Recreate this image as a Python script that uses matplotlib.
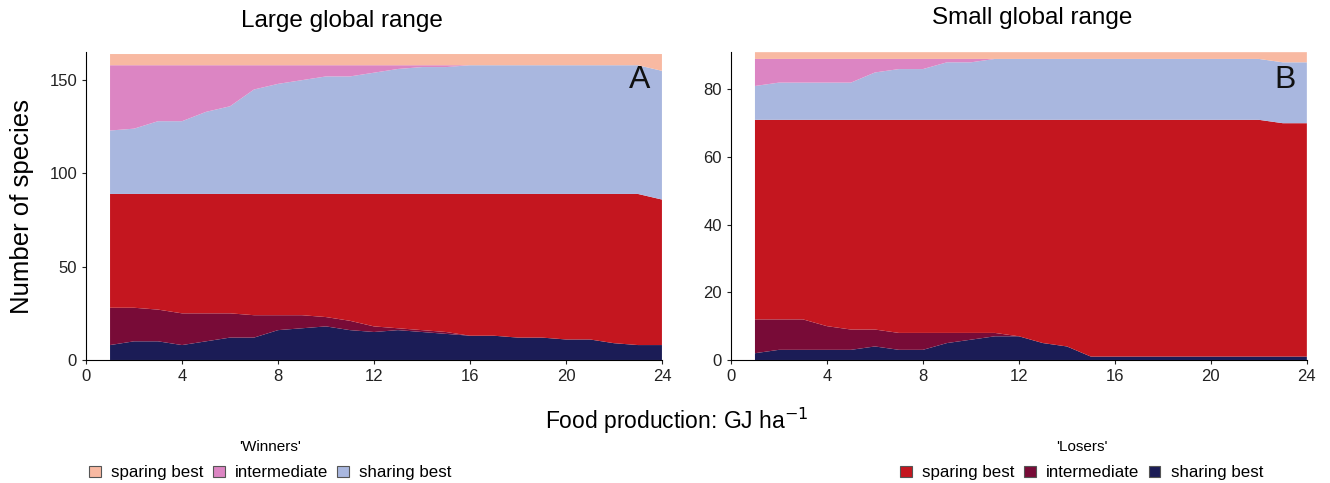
import numpy as np
import matplotlib
matplotlib.use("Agg")
import matplotlib.pyplot as plt
from matplotlib.patches import Patch

plt.rcParams['font.family'] = ['Liberation Sans', 'DejaVu Sans']

food = list(range(1, 25))  # GJ/ha

# panel A - large global range (counts per group, stacked bottom -> top)
a_lose_share = [8, 10, 10, 8, 10, 12, 12, 16, 17, 18, 16, 15, 16, 15, 14, 13, 13, 12, 12, 11, 11, 9, 8, 8]
a_lose_mid = [20, 18, 17, 17, 15, 13, 12, 8, 7, 5, 5, 3, 1, 1, 1, 0, 0, 0, 0, 0, 0, 0, 0, 0]
a_lose_spare = [61, 61, 62, 64, 64, 64, 65, 65, 65, 66, 68, 71, 72, 73, 74, 76, 76, 77, 77, 78, 78, 80, 81, 78]
a_win_share = [34, 35, 39, 39, 44, 47, 56, 59, 61, 63, 63, 65, 67, 68, 68, 69, 69, 69, 69, 69, 69, 69, 69, 69]
a_win_mid = [35, 34, 30, 30, 25, 22, 13, 10, 8, 6, 6, 4, 2, 1, 1, 0, 0, 0, 0, 0, 0, 0, 0, 0]
a_win_spare = [6, 6, 6, 6, 6, 6, 6, 6, 6, 6, 6, 6, 6, 6, 6, 6, 6, 6, 6, 6, 6, 6, 6, 9]

# panel B - small global range
b_lose_share = [2, 3, 3, 3, 3, 4, 3, 3, 5, 6, 7, 7, 5, 4, 1, 1, 1, 1, 1, 1, 1, 1, 1, 1]
b_lose_mid = [10, 9, 9, 7, 6, 5, 5, 5, 3, 2, 1, 0, 0, 0, 0, 0, 0, 0, 0, 0, 0, 0, 0, 0]
b_lose_spare = [59, 59, 59, 61, 62, 62, 63, 63, 63, 63, 63, 64, 66, 67, 70, 70, 70, 70, 70, 70, 70, 70, 69, 69]
b_win_share = [10, 11, 11, 11, 11, 14, 15, 15, 17, 17, 18, 18, 18, 18, 18, 18, 18, 18, 18, 18, 18, 18, 18, 18]
b_win_mid = [8, 7, 7, 7, 7, 4, 3, 3, 1, 1, 0, 0, 0, 0, 0, 0, 0, 0, 0, 0, 0, 0, 0, 0]
b_win_spare = [2, 2, 2, 2, 2, 2, 2, 2, 2, 2, 2, 2, 2, 2, 2, 2, 2, 2, 2, 2, 2, 2, 3, 3]

group_names = ["sparing best", "intermediate", "sharing best"]
win_cols = ["#F8B9A2", "#DC85C3", "#A9B7DF"]
lose_cols = ["#C4161F", "#780B37", "#1B1C56"]

fig = plt.figure(figsize=(13.3, 4.83), dpi=100)
axA = fig.add_axes([0.0647, 0.2547, 0.433, 0.6373])
axB = fig.add_axes([0.5496, 0.2547, 0.433, 0.6373])

stack_cols = [lose_cols[2], lose_cols[1], lose_cols[0], win_cols[2], win_cols[1], win_cols[0]]

axA.stackplot(food, a_lose_share, a_lose_mid, a_lose_spare, a_win_share, a_win_mid, a_win_spare,
              colors=stack_cols, linewidth=0)
axB.stackplot(food, b_lose_share, b_lose_mid, b_lose_spare, b_win_share, b_win_mid, b_win_spare,
              colors=stack_cols, linewidth=0)

for ax, top, yt, lab in [(axA, 165, [0, 50, 100, 150], "A"),
                         (axB, 91, [0, 20, 40, 60, 80], "B")]:
    ax.set_xlim(0, 24)
    ax.set_ylim(0, top)
    ax.set_xticks([0, 4, 8, 12, 16, 20, 24])
    ax.set_yticks(yt)
    ax.spines['top'].set_visible(False)
    ax.spines['right'].set_visible(False)
    ax.tick_params(labelsize=12, length=3, width=0.8, colors='#222222')
    ax.text(0.98, 0.958, lab, transform=ax.transAxes, ha='right', va='top', fontsize=23, color='#111111')

fig.text(0.2571, 0.957, "Large global range", ha='center', va='center', fontsize=17.5)
fig.text(0.7759, 0.962, "Small global range", ha='center', va='center', fontsize=17.5)
fig.text(0.0165, 0.573, "Number of species", rotation=90, ha='center', va='center', fontsize=18.5)
fig.text(0.509, 0.128, "Food production: GJ ha$^{-1}$", ha='center', va='center', fontsize=16.5)

win_h = [Patch(facecolor=c, edgecolor='#555555', linewidth=0.8) for c in win_cols]
lose_h = [Patch(facecolor=c, edgecolor='#555555', linewidth=0.8) for c in lose_cols]
leg_kw = dict(ncol=3, frameon=False, fontsize=12.2, title_fontsize=11, handlelength=0.7, handleheight=0.7,
              handletextpad=0.6, columnspacing=0.55, borderpad=0, labelspacing=0.3)
lw = fig.legend(win_h, group_names, title="'Winners'", loc='upper left', bbox_to_anchor=(0.0605, 0.106), **leg_kw)
lw2 = fig.legend(lose_h, group_names, title="'Losers'", loc='upper right', bbox_to_anchor=(0.956, 0.106), **leg_kw)
lw._legend_box.sep = 8
lw2._legend_box.sep = 8

fig.savefig("out.png", dpi=100)
